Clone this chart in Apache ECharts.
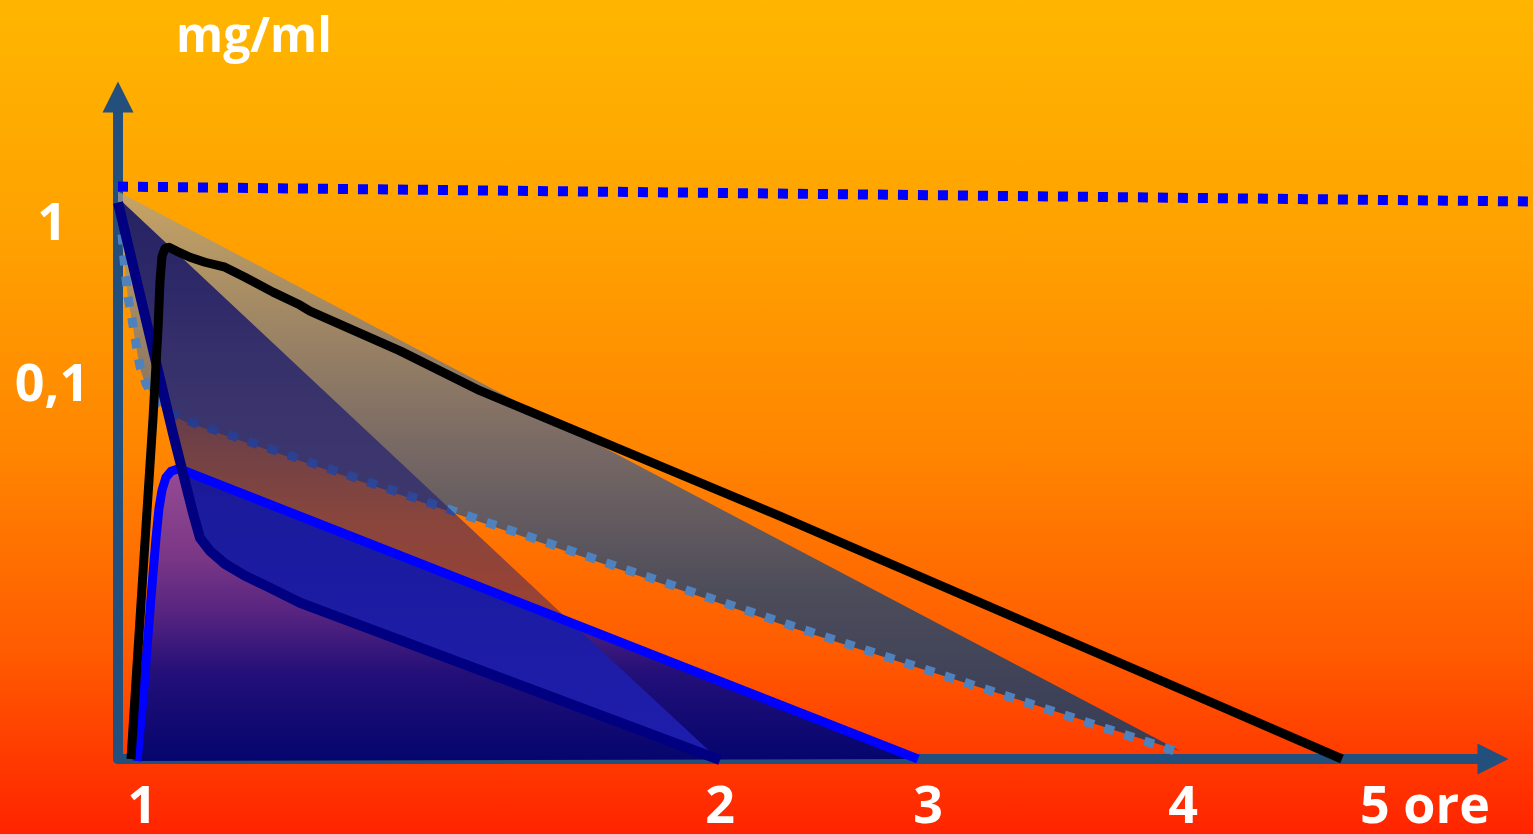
<!DOCTYPE html>
<html><head><meta charset="utf-8">
<script src="https://cdn.jsdelivr.net/npm/echarts@6/dist/echarts.min.js"></script>
<style>
html,body{margin:0;padding:0;width:1533px;height:834px;overflow:hidden;}
body{background:linear-gradient(to bottom,#FFB600 0%,#FFA000 30%,#FF8C00 48%,#FF8600 54%,#FF5C00 78%,#FF3A00 91%,#FF2400 100%);}
#chart{width:1533px;height:834px;}
</style></head><body><div id="chart"></div>
<script>
// Schematic units: t = position along the time axis, c = height along the concentration axis
const xTickValues = [24, 602, 810, 1065, 1307];
const xTickLabels = ['1', '2', '3', '4', '5 ore'];
const yTickValues = [536, 374];
const yTickLabels = ['1', '0,1'];
const yAxisName = 'mg/ml';

// top dotted reference level
const refT = [0, 1415];
const refC = [575, 560];

// light-blue dotted curve
const dotT = [4, 6, 10, 14, 18, 22, 28, 37, 50, 69, 670, 1060];
const dotC = [527, 502, 464, 442, 417, 394, 377, 362, 349, 340, 135, 7];

// shaded wedge (upper edge + lower edge following the dotted curve)
const wedgeT = [0, 1062, 670, 69, 50, 37, 28, 22, 18, 14, 10, 6, 3, 0];
const wedgeC = [570, 8, 133, 338, 347, 360, 375, 392, 415, 440, 462, 500, 530, 545];

// blue curve (absorption peak)
const blueT = [19, 26, 33, 38, 41, 44, 48, 53, 59, 65, 800];
const blueC = [-2, 72, 162, 222, 252, 270, 283, 289, 291, 290, 0];

// navy curve
const navyT = [0, 55, 70, 75, 82, 92, 107, 127, 152, 182, 602];
const navyC = [559, 327, 267, 247, 222, 209, 196, 184, 172, 157, -1];

// navy triangle (diagonal edge + navy curve)
const triT = [5, 602, 182, 152, 127, 107, 92, 82, 75, 70, 55, 0];
const triC = [559, -3, 157, 172, 184, 196, 209, 222, 247, 267, 327, 559];

// bright band between navy curve and blue curve inside the triangle
const bandT = [65, 455, 602, 182, 152, 127, 107, 92, 82, 75, 70, 66];
const bandC = [290, 135, -2, 157, 172, 184, 196, 209, 222, 247, 267, 285];

// black curve
const blackT = [13, 24, 35, 40, 42, 44, 47, 51, 59, 72, 87, 107, 127, 155, 182, 192, 282, 362, 662, 1109, 1224];
const blackC = [0, 172, 342, 432, 480, 505, 513, 514, 510, 504, 499, 494, 484, 469, 456, 450, 410, 370, 244, 50, 0];

const zip = (a, b) => a.map((v, i) => [v, b[i]]);

function polygonSeries(ts, cs, fill) {
  return {
    type: 'custom',
    coordinateSystem: 'cartesian2d',
    silent: true,
    clip: false,
    data: zip(ts, cs),
    renderItem: function (params, api) {
      if (params.dataIndex !== 0) return null;
      const pts = ts.map((t, i) => api.coord([t, cs[i]]));
      return { type: 'polygon', shape: { points: pts }, style: { fill: fill, stroke: null } };
    }
  };
}
function dashedSeries(ts, cs, color, width, dash) {
  return {
    type: 'custom',
    coordinateSystem: 'cartesian2d',
    silent: true,
    clip: false,
    data: zip(ts, cs),
    renderItem: function (params, api) {
      if (params.dataIndex !== 0) return null;
      const pts = ts.map((t, i) => api.coord([t, cs[i]]));
      return { type: 'polyline', shape: { points: pts },
        style: { stroke: color, lineWidth: width, lineDash: dash, lineCap: 'butt', lineJoin: 'round', fill: null } };
    }
  };
}
function lineSeries(ts, cs, color, width, type) {
  return {
    type: 'line',
    data: zip(ts, cs),
    showSymbol: false,
    symbol: 'none',
    silent: true,
    clip: false,
    lineStyle: { color: color, width: width, type: type || 'solid', cap: 'butt', join: 'round' }
  };
}
const LG = echarts.graphic.LinearGradient;

const chart = echarts.init(document.getElementById('chart'), null, { renderer: 'canvas' });
const axisColor = '#234F7D';
const labelFont = { color: '#FFFFFF', fontSize: 52, fontWeight: 'bold', fontFamily: '"Open Sans", sans-serif' };

chart.setOption({
  backgroundColor: 'transparent',
  animation: false,
  grid: { left: 118, right: 40, top: 97, bottom: 72 },
  xAxis: {
    type: 'value', min: 0, max: 1375,
    splitLine: { show: false },
    axisTick: { show: false },
    axisLine: { show: true, lineStyle: { color: axisColor, width: 10 }, symbol: ['none', 'triangle'], symbolSize: [31, 31] },
    axisLabel: Object.assign({
      customValues: xTickValues,
      margin: 23,
      formatter: function (v) { const i = xTickValues.indexOf(v); return i >= 0 ? xTickLabels[i] : ''; }
    }, labelFont)
  },
  yAxis: {
    type: 'value', min: 0, max: 665,
    name: yAxisName,
    nameLocation: 'end',
    nameGap: 35,
    nameTextStyle: { color: '#FFFFFF', fontSize: 48, fontWeight: 'bold', fontFamily: '"Open Sans", sans-serif', align: 'left', padding: [0, 0, 0, 58] },
    splitLine: { show: false },
    axisTick: { show: false },
    axisLine: { show: true, lineStyle: { color: axisColor, width: 10 }, symbol: ['none', 'triangle'], symbolSize: [31, 31] },
    axisLabel: Object.assign({
      customValues: yTickValues,
      margin: 66,
      align: 'center',
      formatter: function (v) { const i = yTickValues.indexOf(v); return i >= 0 ? yTickLabels[i] : ''; }
    }, labelFont)
  },
  series: [
    polygonSeries(wedgeT, wedgeC, new LG(0, 0, 0, 1, [
      { offset: 0, color: 'rgba(176,164,143,0.7)' },
      { offset: 0.46, color: 'rgba(62,92,143,0.7)' },
      { offset: 0.72, color: 'rgba(0,64,128,0.7)' },
      { offset: 1, color: 'rgba(20,62,100,0.85)' }
    ])),
    polygonSeries(blueT, blueC, new LG(0, 0, 0, 1, [
      { offset: 0, color: '#964B93' },
      { offset: 0.3, color: '#7A3786' },
      { offset: 0.5, color: '#552380' },
      { offset: 0.7, color: '#230F78' },
      { offset: 1, color: '#05056E' }
    ])),
    lineSeries(blueT, blueC, '#0000FF', 9),
    polygonSeries(bandT, bandC, '#2222C4'),
    dashedSeries(dotT, dotC, '#4F81BD', 9, [10, 11]),
    polygonSeries(triT, triC, new LG(0, 0, 0, 1, [
      { offset: 0, color: 'rgba(20,20,100,0.9)' },
      { offset: 0.17, color: 'rgba(20,20,105,0.82)' },
      { offset: 0.57, color: 'rgba(20,20,120,0.5)' },
      { offset: 1, color: 'rgba(20,20,120,0.3)' }
    ])),
    lineSeries(navyT, navyC, '#000080', 10),
    lineSeries(blackT, blackC, '#000000', 9),
    dashedSeries(refT, refC, '#0000FF', 10, [10, 10])
  ]
});
</script></body></html>
